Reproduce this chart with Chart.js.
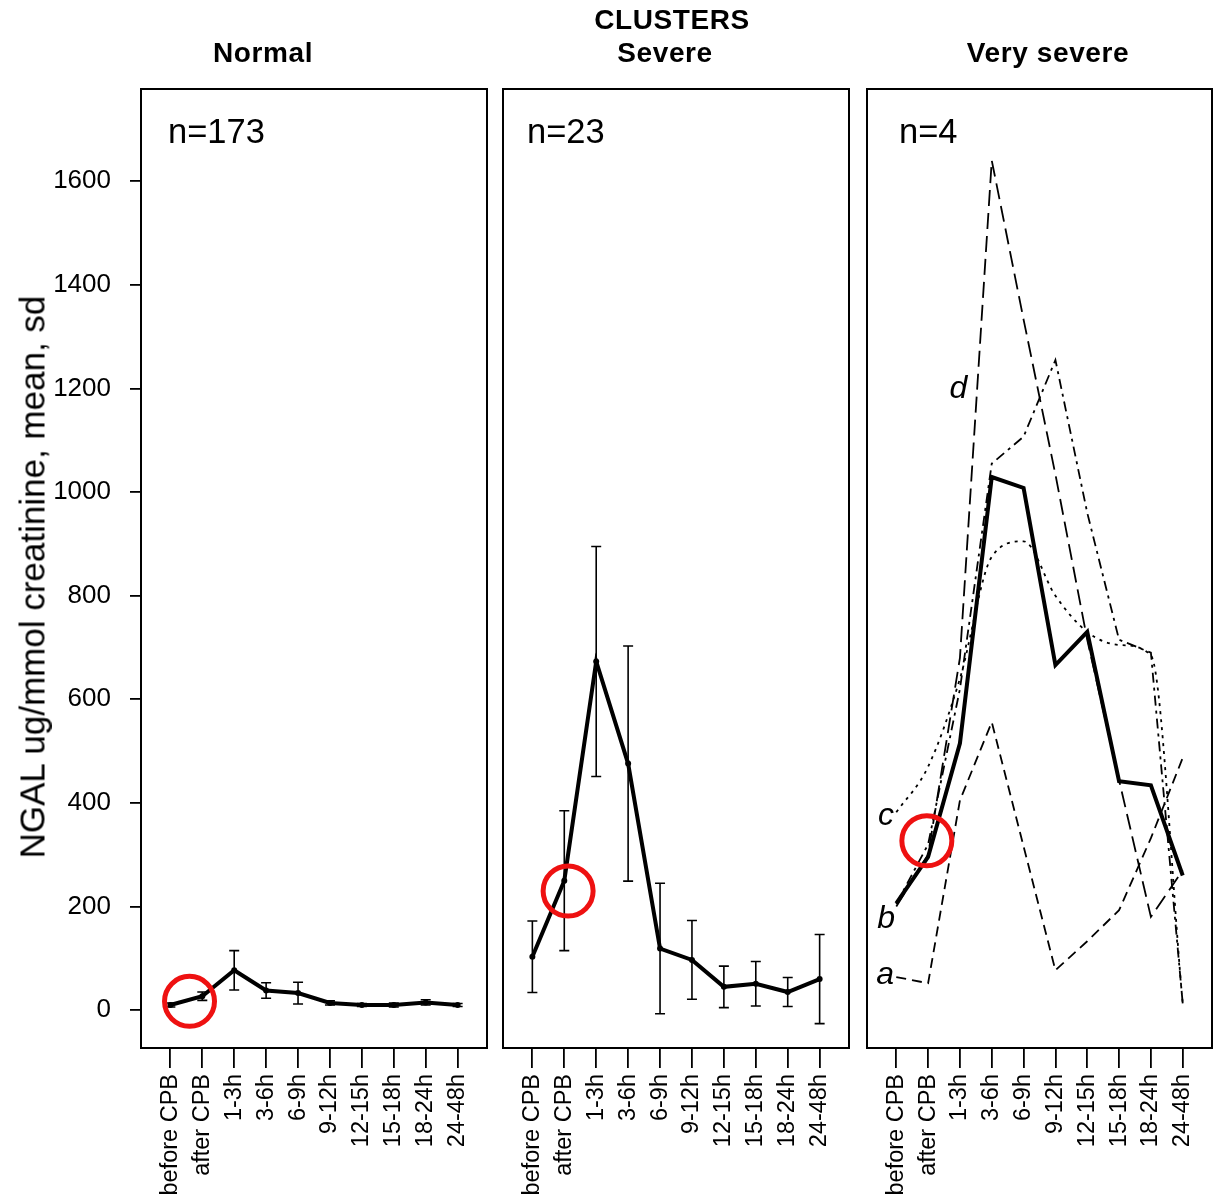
<!DOCTYPE html>
<html>
<head>
<meta charset="utf-8">
<script src="https://cdn.jsdelivr.net/npm/chart.js@4.4.1/dist/chart.umd.min.js"></script>
<style>
  body { margin: 0; background: #fff; }
  #wrap { position: relative; width: 1214px; height: 1204px; overflow: hidden; font-family: "Liberation Sans", Arial, sans-serif; color: #000; }
  canvas { position: absolute; top: 0; }
  .t { position: absolute; transform: translate(-50%, -50%); white-space: nowrap; line-height: 1; }
  .b { font-weight: bold; font-size: 28px; letter-spacing: 0.6px; }
  .n { position: absolute; font-size: 34.5px; line-height: 1; transform: translateY(-50%); }
</style>
</head>
<body>
<div id="wrap">
  <canvas id="c1" width="495" height="1204" style="left:0px"></canvas>
  <canvas id="c2" width="362" height="1204" style="left:495px"></canvas>
  <canvas id="c3" width="357" height="1204" style="left:857px"></canvas>

  <div class="t b" style="left:672px; top:20px">CLUSTERS</div>
  <div class="t b" style="left:263px; top:53px">Normal</div>
  <div class="t b" style="left:665px; top:53px">Severe</div>
  <div class="t b" style="left:1048px; top:53px">Very severe</div>

  <div class="n" style="left:168px; top:131px">n=173</div>
  <div class="n" style="left:527px; top:131px">n=23</div>
  <div class="n" style="left:899px; top:131px">n=4</div>

  <div class="t" style="left:32px; top:577px; font-size:35px; transform: translate(-50%,-50%) rotate(-90deg)">NGAL ug/mmol creatinine, mean, sd</div>
</div>

<script>
// time points along the x axis
const categories = ['before CPB', 'after CPB', '1-3h', '3-6h', '6-9h', '9-12h', '12-15h', '15-18h', '18-24h', '24-48h'];
const yTicks = [0, 200, 400, 600, 800, 1000, 1200, 1400, 1600];

// cluster "Normal"
const normalMean = [10, 27, 77, 38, 33, 14, 10, 10, 15, 10];
const normalSd   = [4, 8, 38, 15, 21, 4, 3, 4, 5, 3];

// cluster "Severe"
const severeMean = [103, 250, 673, 476, 119, 97, 45, 51, 35, 60];
const severeSd   = [69, 135, 222, 227, 126, 76, 40, 43, 28, 86];

// cluster "Very severe": mean and the four patients a-d
const vsMean = [206, 296, 515, 1029, 1008, 666, 730, 442, 434, 260];
const vsA = [64, 52, 405, 556, 316, 77, 133, 193, 332, 487];
const vsB = [205, 320, 620, 1055, 1107, 1255, 960, 715, 690, 13];
const vsC = [382, 470, 640, 875, 905, 800, 730, 705, 685, 13];
const vsD = [200, 300, 680, 1640, 1333, 1034, 715, 444, 180, 270];

// red circles (x in category units, y in data units)
const circleNormal = [{ x: 0.6, y: 17 }];
const circleSevere = [{ x: 1.12, y: 230 }];
const circleVs = [{ x: 0.96, y: 327 }];

// labels of the four patients
const patientLabels = [
  { text: 'a', x: -0.35, y: 68 },
  { text: 'b', x: -0.32, y: 175 },
  { text: 'c', x: -0.32, y: 375 },
  { text: 'd', x: 1.95, y: 1198 }
];

const FONT = '"Liberation Sans", Arial, sans-serif';
const pts = arr => arr.map((v, i) => ({ x: i, y: v }));

const boxPlugin = {
  id: 'box',
  afterDraw(chart) {
    const { ctx, chartArea: a } = chart;
    ctx.save();
    ctx.strokeStyle = '#000';
    ctx.lineWidth = 2;
    ctx.strokeRect(a.left, a.top, a.right - a.left, a.bottom - a.top);
    ctx.restore();
  }
};

function errorBars(mean, sd) {
  return {
    id: 'errbars',
    beforeDatasetsDraw(chart) {
      const { ctx } = chart;
      const xs = chart.scales.x, ys = chart.scales.y;
      ctx.save();
      ctx.strokeStyle = '#000';
      ctx.lineWidth = 1.6;
      mean.forEach((m, i) => {
        const x = xs.getPixelForValue(i);
        const y1 = ys.getPixelForValue(m - sd[i]);
        const y2 = ys.getPixelForValue(m + sd[i]);
        ctx.beginPath();
        ctx.moveTo(x, y1); ctx.lineTo(x, y2);
        ctx.moveTo(x - 5, y1); ctx.lineTo(x + 5, y1);
        ctx.moveTo(x - 5, y2); ctx.lineTo(x + 5, y2);
        ctx.stroke();
      });
      ctx.restore();
    }
  };
}

const letterPlugin = {
  id: 'letters',
  afterDatasetsDraw(chart) {
    const { ctx } = chart;
    const xs = chart.scales.x, ys = chart.scales.y;
    ctx.save();
    ctx.fillStyle = '#000';
    ctx.font = 'italic 32px ' + FONT;
    ctx.textAlign = 'center';
    ctx.textBaseline = 'middle';
    patientLabels.forEach(l => {
      ctx.fillText(l.text, xs.getPixelForValue(l.x), ys.getPixelForValue(l.y));
    });
    ctx.restore();
  }
};

function circleSet(data) {
  return {
    data: data,
    showLine: false,
    pointRadius: 25,
    pointBorderWidth: 5,
    pointBorderColor: '#ee1111',
    pointBackgroundColor: 'rgba(0,0,0,0)',
    order: 0
  };
}

function makePanel(id, datasets, showY, padding, plugins) {
  new Chart(document.getElementById(id), {
    type: 'line',
    data: { datasets: datasets },
    plugins: [boxPlugin].concat(plugins),
    options: {
      responsive: false,
      animation: false,
      devicePixelRatio: 1,
      layout: { padding: padding, autoPadding: false },
      plugins: { legend: { display: false }, tooltip: { enabled: false } },
      elements: { point: { radius: 0 } },
      scales: {
        x: {
          type: 'linear',
          min: -0.92,
          max: 9.92,
          afterBuildTicks: s => { s.ticks = categories.map((c, i) => ({ value: i })); },
          afterFit: s => { s.height = 156; s.paddingLeft = 0; s.paddingRight = 0; },
          ticks: {
            callback: v => categories[v],
            autoSkip: false,
            minRotation: 90,
            maxRotation: 90,
            padding: 6,
            color: '#000',
            font: { family: FONT, size: 23.5 }
          },
          grid: { drawOnChartArea: false, tickLength: 20, color: '#000', lineWidth: 1.8 },
          border: { display: false }
        },
        y: {
          display: showY,
          min: -73,
          max: 1778,
          afterBuildTicks: s => { s.ticks = yTicks.map(v => ({ value: v })); },
          afterFit: s => { s.width = showY ? 141 : 0; s.paddingTop = 0; s.paddingBottom = 0; },
          ticks: { callback: v => String(v), color: '#000', padding: 19, font: { family: FONT, size: 26 } },
          grid: { drawOnChartArea: false, tickLength: 11, color: '#000', lineWidth: 1.8 },
          border: { display: false }
        }
      }
    }
  });
}

const meanStyle = {
  borderColor: '#000',
  borderWidth: 4,
  pointRadius: 3,
  pointBackgroundColor: '#000',
  pointBorderWidth: 0,
  order: 1
};

makePanel('c1', [
  circleSet(circleNormal),
  Object.assign({ data: pts(normalMean) }, meanStyle)
], true, { top: 89, left: 0, right: 8, bottom: 0 }, [errorBars(normalMean, normalSd)]);

makePanel('c2', [
  circleSet(circleSevere),
  Object.assign({ data: pts(severeMean) }, meanStyle)
], false, { top: 89, left: 8, right: 8, bottom: 0 }, [errorBars(severeMean, severeSd)]);

const thin = (data, dash, mono) => ({
  data: pts(data),
  borderColor: '#000',
  borderWidth: 1.8,
  borderDash: dash,
  cubicInterpolationMode: mono ? 'monotone' : 'default',
  order: 2
});

makePanel('c3', [
  circleSet(circleVs),
  { data: pts(vsMean), borderColor: '#000', borderWidth: 4, order: 1 },
  thin(vsA, [10, 6], false),
  thin(vsB, [10, 5, 3, 5], false),
  thin(vsC, [3, 5], true),
  thin(vsD, [16, 7], false)
], false, { top: 89, left: 10, right: 2, bottom: 0 }, [letterPlugin]);
</script>
</body>
</html>
